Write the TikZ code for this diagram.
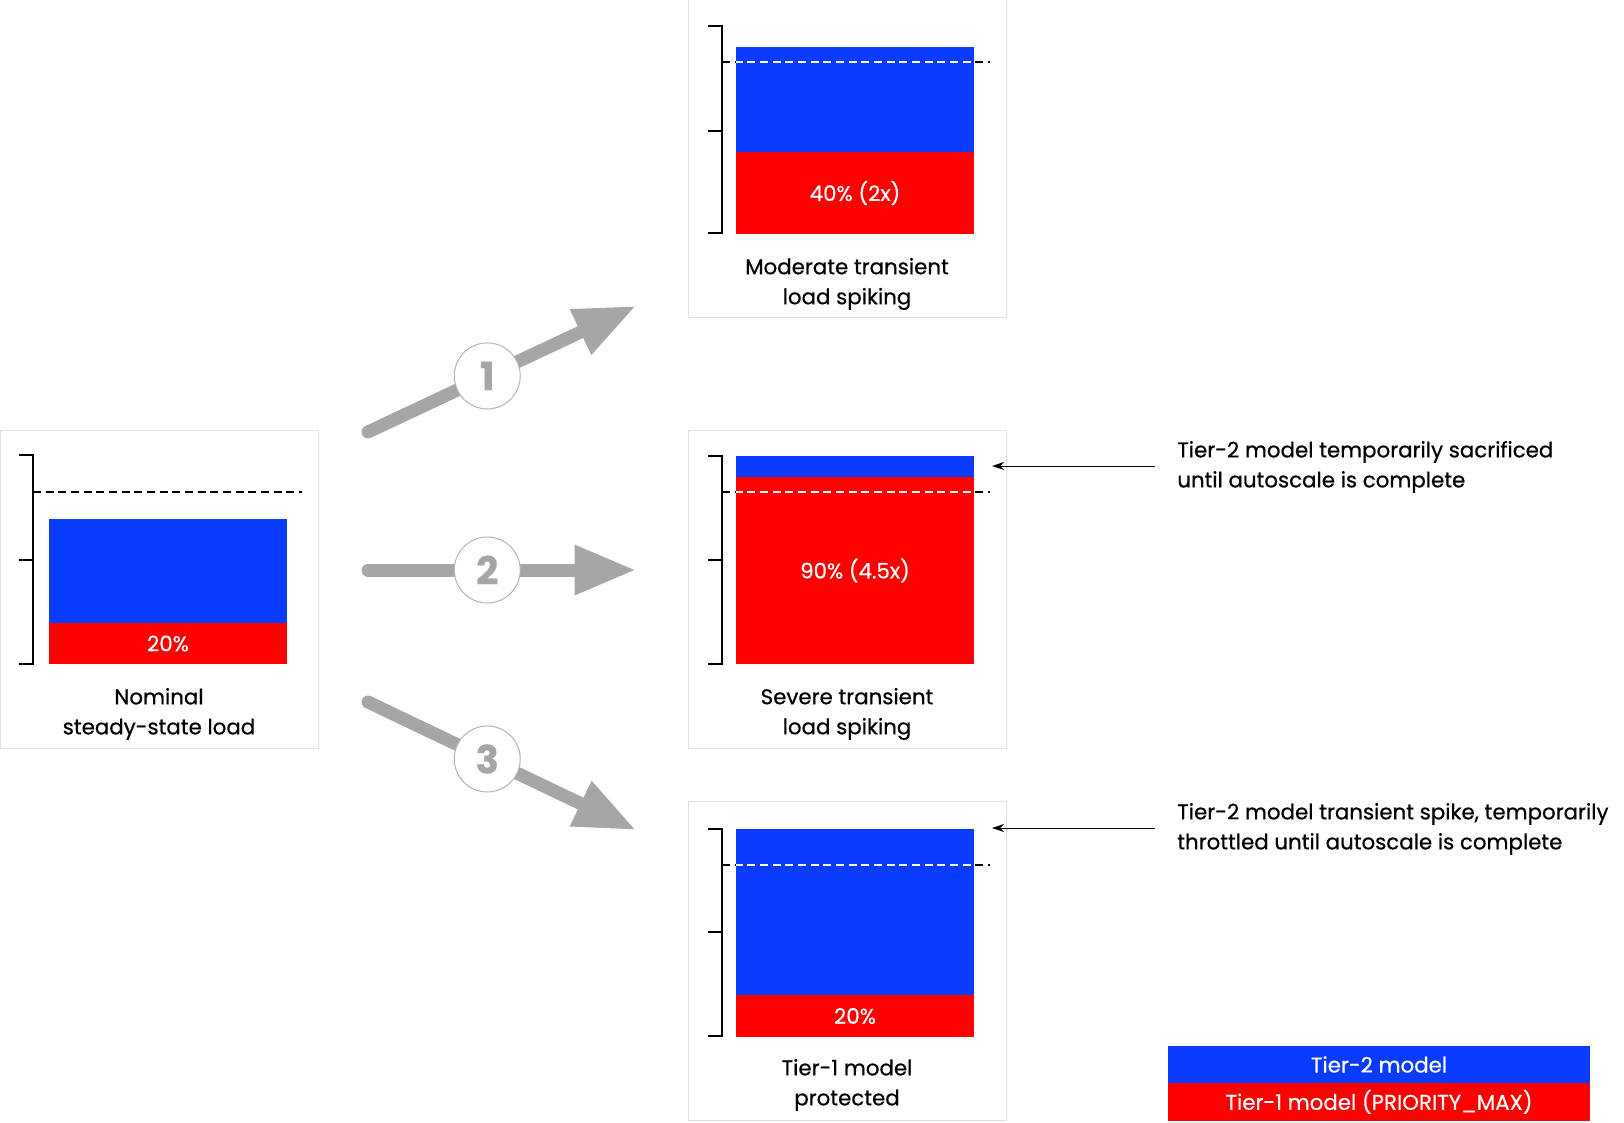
\documentclass[tikz,border=0pt]{standalone}
\usepackage{fontspec}
\setmainfont{Poppins}[FakeBold=0.6]
\usetikzlibrary{positioning, arrows.meta}
\definecolor{tierblue}{HTML}{0A3CFF}
\definecolor{tierred}{HTML}{FF0000}
\definecolor{panelgray}{HTML}{E0E0E0}
\definecolor{stepgray}{HTML}{A6A6A6}
\newcommand{\capfont}{\fontsize{16}{22.5}\selectfont}
\tikzstyle{panel} = [rectangle, draw=panelgray, line width=0.75pt, minimum width=238.5pt, minimum height=239pt, inner sep=0pt]
\tikzstyle{tier1} = [rectangle, fill=tierred, minimum width=178.5pt, inner sep=0pt, outer sep=0pt, text=white, font=\capfont]
\tikzstyle{tier2} = [rectangle, fill=tierblue, minimum width=178.5pt, inner sep=0pt, outer sep=0pt]
\tikzstyle{caption} = [align=center, font=\capfont]
\tikzset{
	scalebar/.style={line width=1.1pt},
	limit/.style={dash pattern=on 6pt off 3.5pt, line width=0.9pt},
	bigarrow/.style={draw=stepgray, line width=9.75pt, line cap=round, -{Triangle[length=46pt,width=35pt]}},
	stepcirc/.style={circle, draw=stepgray!85, fill=white, line width=0.75pt, minimum size=49.5pt, inner sep=0pt, text=stepgray, font=\fontsize{29}{29}\selectfont\bfseries},
	note/.style={align=left, anchor=west, inner xsep=16.5pt, inner ysep=0pt, font=\capfont},
	notearrow/.style={-{Stealth[length=9pt,width=6pt]}, line width=0.75pt},
	legbox/.style={rectangle, minimum width=316.5pt, minimum height=28pt, inner sep=0pt, outer sep=0pt, text=white, font=\capfont}
}

\begin{document}
\begin{tikzpicture}[x=0.75pt, y=-0.75pt, node distance=0pt]
	\useasboundingbox (0,0) rectangle (1624,1123);
	% panels
	\node [panel] (pnom) at (159,589.5) {};
	\node [panel] (pmod) at (847,158.5) {};
	\node [panel] (psev) at (847,589.5) {};
	\node [panel] (pprot) at (847,961) {};
	
	% load bars
	\node [tier1, minimum height=30.75pt, anchor=south] (rnom) at (168,664) {20\%};
	\node [tier2, minimum height=78pt, above=of rnom] (bnom) {};
	\node [tier1, minimum height=61.5pt, anchor=south] (rmod) at (855,234) {40\% (2x)};
	\node [tier2, minimum height=78.75pt, above=of rmod] (bmod) {};
	\node [tier1, minimum height=140.25pt, anchor=south] (rsev) at (855,664) {90\% (4.5x)};
	\node [tier2, minimum height=15.75pt, above=of rsev] (bsev) {};
	\node [tier1, minimum height=31.5pt, anchor=south] (rprot) at (855,1037) {20\%};
	\node [tier2, minimum height=124.5pt, above=of rprot] (bprot) {};
	
	% scale brackets
	\draw[scalebar] (19,455) -- (33,455) -- (33,664) -- (19,664) (19,560) -- (33,560);
	\draw[scalebar] (708,26) -- (722,26) -- (722,233) -- (708,233) (708,131) -- (722,131);
	\draw[scalebar] (708,456) -- (722,456) -- (722,664) -- (708,664) (708,560) -- (722,560);
	\draw[scalebar] (708,829) -- (722,829) -- (722,1036) -- (708,1036) (708,932) -- (722,932);
	
	% capacity lines
	\draw[limit] (33,492) -- (302,492);
	\draw[limit] (722,62) -- (990,62);
	\draw[limit] (722,492) -- (990,492);
	\draw[limit] (722,865) -- (990,865);
	\begin{scope}
		\clip (bmod.north west) rectangle (rmod.south east);
		\draw[limit, white] (722,62) -- (990,62);
	\end{scope}
	\begin{scope}
		\clip (bsev.north west) rectangle (rsev.south east);
		\draw[limit, white] (722,492) -- (990,492);
	\end{scope}
	\begin{scope}
		\clip (bprot.north west) rectangle (rprot.south east);
		\draw[limit, white] (722,865) -- (990,865);
	\end{scope}
	
	% captions
	\node [caption] (cnom) at (159,714) {Nominal\\steady-state load};
	\node [caption] (cmod) at (847,284) {Moderate transient\\load spiking};
	\node [caption] (csev) at (847,714) {Severe transient\\load spiking};
	\node [caption] (cprot) at (847,1085) {Tier-1 model\\protected};
	
	% scenario arrows
	\coordinate (s1) at (368,432);
	\coordinate (e1) at (636,306);
	\coordinate (s2) at (368,570);
	\coordinate (e2) at (636,570);
	\coordinate (s3) at (368,702);
	\coordinate (e3) at (636,830);
	\draw[bigarrow] (s1) -- (e1) node[stepcirc, pos=0.445] (n1) {1};
	\draw[bigarrow] (s2) -- (e2) node[stepcirc, pos=0.445] (n2) {2};
	\draw[bigarrow] (s3) -- (e3) node[stepcirc, pos=0.445] (n3) {3};
	
	% notes
	\node [note] (tsac) at (1155,467) {Tier-2 model temporarily sacrificed\\until autoscale is complete};
	\node [note] (tthr) at (1155,829) {Tier-2 model transient spike, temporarily\\throttled until autoscale is complete};
	\coordinate (asev) at (992,466);
	\coordinate (aprot) at (992,828);
	\draw[notearrow] (tsac.west |- asev) -- (asev);
	\draw[notearrow] (tthr.west |- aprot) -- (aprot);
	
	% legend
	\node [legbox, fill=tierblue] (leg2) at (1379,1064.5) {Tier-2 model};
	\node [legbox, fill=tierred, below=of leg2] (leg1) {Tier-1 model (PRIORITY\_MAX)};
\end{tikzpicture}
\end{document}
